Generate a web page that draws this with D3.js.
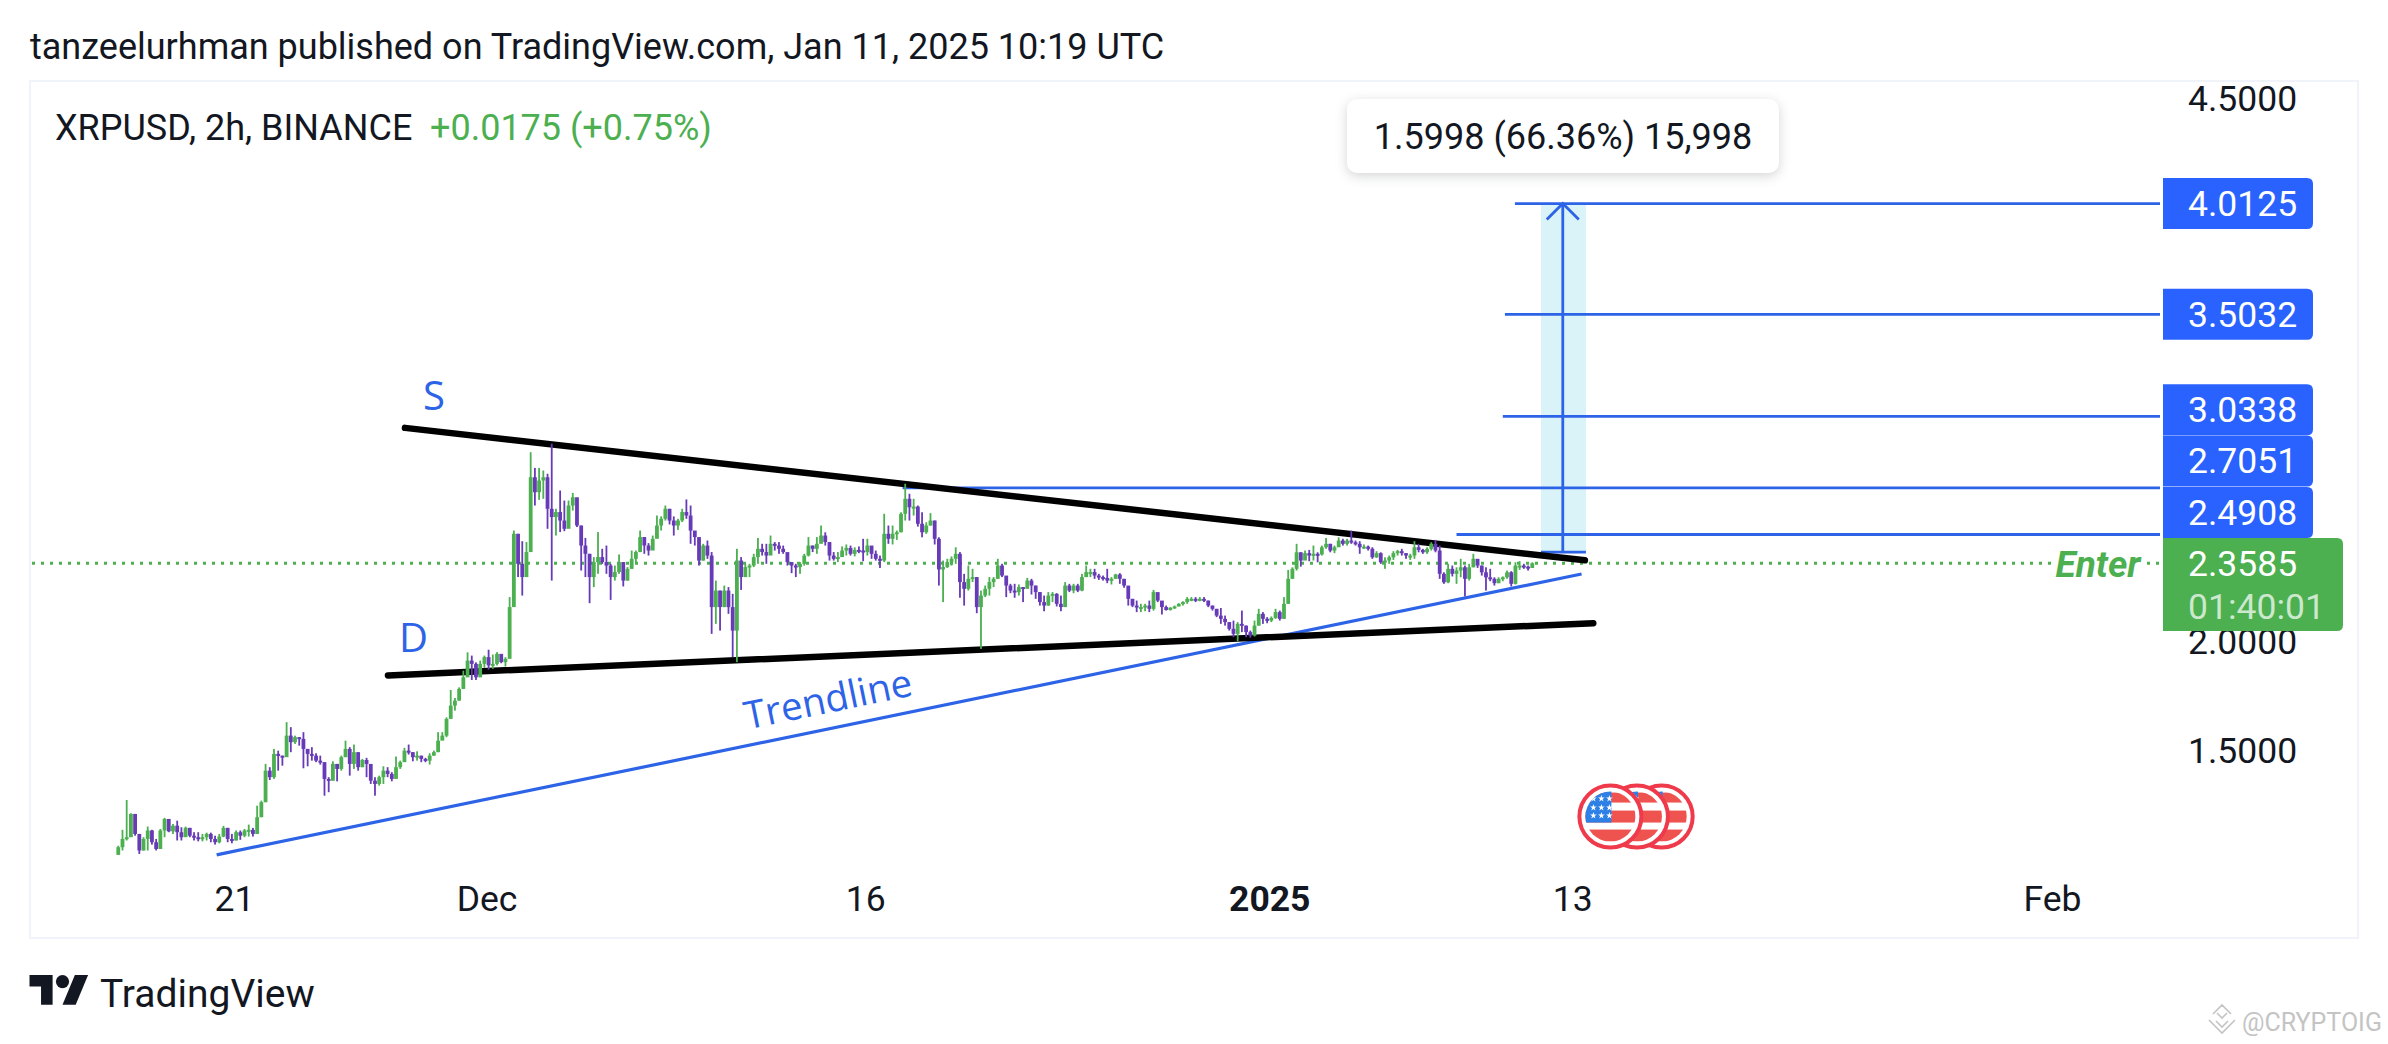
<!DOCTYPE html>
<html>
<head>
<meta charset="utf-8">
<script src="https://cdn.jsdelivr.net/npm/d3@7/dist/d3.min.js"></script>
<style>
  html, body { margin: 0; padding: 0; background: #fff; overflow: hidden; }
  text { font-family: Roboto, sans-serif; fill: #131722; }
</style>
</head>
<body>
<div id="chart"></div>
<script>
// 4h samples, prices in USD, first bar at candleStart
var candleStart = "2024-11-16T10:00:00Z";
var candleStepHours = 4;

var highs = [
  1.060,1.133,1.270,1.209,1.206,1.114,1.099,1.148,1.133,1.091,
  1.137,1.188,1.183,1.160,1.175,1.145,1.148,1.142,1.122,1.122,
  1.114,1.120,1.120,1.106,1.114,1.151,1.142,1.114,1.130,1.130,
  1.137,1.157,1.142,1.244,1.267,1.436,1.421,1.505,1.497,1.474,
  1.628,1.605,1.566,1.559,1.582,1.505,1.513,1.485,1.474,1.444,
  1.375,1.448,1.436,1.474,1.543,1.513,1.525,1.490,1.459,1.464,
  1.421,1.375,1.382,1.425,1.421,1.398,1.470,1.451,1.510,1.525,
  1.490,1.494,1.474,1.464,1.485,1.497,1.582,1.582,1.650,1.776,
  1.739,1.788,1.865,1.949,1.934,1.903,
  1.911,1.934,1.961,1.939,1.950,1.930,1.927,2.203,2.509,2.494,
  2.460,2.456,2.869,2.797,2.797,2.785,2.770,2.908,2.609,2.693,
  2.647,2.647,2.682,2.639,2.532,2.475,2.402,2.387,2.502,2.425,
  2.440,2.356,2.348,2.399,2.364,2.341,2.417,2.417,2.509,2.479,
  2.451,2.486,2.578,2.574,2.624,2.609,2.574,2.563,2.609,2.652,
  2.624,2.494,2.448,2.448,2.463,2.410,2.279,2.233,2.256,2.249,
  2.218,2.425,2.387,2.356,2.356,2.402,2.475,2.448,2.448,2.486,
  2.456,2.456,2.440,2.402,2.364,2.356,2.364,2.402,2.479,2.440,
  2.479,2.532,2.501,2.456,2.410,2.410,
  2.436,2.445,2.440,2.432,2.436,2.471,2.471,2.420,2.417,2.394,
  2.586,2.532,2.532,2.509,2.593,2.724,2.678,2.655,2.624,2.593,
  2.547,2.589,2.555,2.478,2.371,2.379,2.390,2.432,2.410,2.310,
  2.348,2.333,2.295,2.233,2.256,2.295,2.295,2.379,2.356,2.295,
  2.264,2.264,2.261,2.249,2.291,2.287,2.256,2.226,2.210,2.226,
  2.226,2.221,2.210,2.272,2.264,2.264,2.264,2.310,2.348,2.333,
  2.333,2.310,2.302,2.333,2.295,2.310,2.313,2.287,2.249,2.195,
  2.187,2.172,2.172,2.187,2.236,2.218,2.180,2.164,2.157,2.164,
  2.175,2.184,2.203,2.203,2.203,
  2.203,2.203,2.187,2.164,2.149,2.153,2.118,2.088,2.095,2.088,
  2.141,2.072,2.049,2.095,2.149,2.134,2.111,2.114,2.149,2.141,
  2.203,2.328,2.340,2.448,2.409,2.417,2.420,2.440,2.409,2.440,
  2.475,2.448,2.440,2.478,2.471,2.471,2.509,2.463,2.460,2.445,
  2.440,2.432,2.414,2.409,2.386,2.394,2.414,2.420,2.425,2.405,
  2.402,2.460,2.448,2.425,2.432,2.455,2.466,2.440,2.317,2.356,
  2.348,2.340,2.379,2.348,2.356,2.402,2.371,2.348,2.340,2.333,
  2.294,2.294,2.298,2.325,2.322,2.363,2.368,2.356,2.348,2.363
];

var lows = [
  1.018,1.038,1.084,1.130,1.106,1.022,1.038,1.038,1.065,1.038,
  1.045,1.099,1.122,1.114,1.084,1.084,1.114,1.099,1.084,1.080,
  1.080,1.084,1.076,1.065,1.071,1.099,1.076,1.071,1.084,1.087,
  1.099,1.102,1.102,1.114,1.191,1.260,1.362,1.367,1.405,1.428,
  1.490,1.490,1.528,1.520,1.416,1.425,1.451,1.444,1.433,1.290,
  1.306,1.359,1.356,1.405,1.467,1.382,1.413,1.405,1.421,1.375,
  1.344,1.290,1.336,1.344,1.375,1.356,1.372,1.413,1.451,1.479,
  1.448,1.451,1.444,1.444,1.433,1.474,1.490,1.546,1.559,1.650,
  1.681,1.727,1.781,1.857,1.822,1.822,
  1.873,1.878,1.869,1.873,1.889,1.899,1.884,1.927,2.287,2.295,
  2.210,2.302,2.578,2.624,2.650,2.655,2.517,2.279,2.486,2.502,
  2.506,2.555,2.601,2.525,2.325,2.295,2.175,2.249,2.310,2.356,
  2.310,2.190,2.279,2.310,2.252,2.279,2.333,2.364,2.410,2.402,
  2.394,2.433,2.475,2.509,2.555,2.537,2.486,2.512,2.548,2.563,
  2.448,2.440,2.348,2.371,2.379,2.034,2.080,2.049,2.157,2.126,
  1.927,1.904,2.236,2.295,2.295,2.341,2.356,2.394,2.356,2.402,
  2.417,2.402,2.402,2.348,2.313,2.295,2.310,2.348,2.390,2.410,
  2.402,2.471,2.440,2.371,2.371,2.364,
  2.390,2.394,2.394,2.390,2.405,2.368,2.394,2.379,2.371,2.337,
  2.364,2.448,2.445,2.466,2.501,2.555,2.555,2.578,2.527,2.478,
  2.494,2.532,2.445,2.256,2.180,2.337,2.348,2.356,2.200,2.164,
  2.233,2.272,2.129,1.965,2.203,2.210,2.249,2.287,2.295,2.203,
  2.221,2.200,2.210,2.180,2.249,2.215,2.195,2.164,2.138,2.164,
  2.180,2.160,2.138,2.195,2.226,2.221,2.226,2.230,2.295,2.295,
  2.287,2.282,2.279,2.267,2.261,2.287,2.264,2.246,2.164,2.157,
  2.134,2.134,2.138,2.134,2.141,2.180,2.123,2.141,2.141,2.149,
  2.160,2.164,2.172,2.184,2.180,
  2.184,2.180,2.157,2.141,2.111,2.080,2.072,2.049,2.019,2.000,
  2.042,2.019,2.016,2.022,2.072,2.080,2.083,2.088,2.103,2.095,
  2.103,2.172,2.287,2.325,2.343,2.379,2.368,2.371,2.363,2.394,
  2.425,2.409,2.405,2.435,2.440,2.440,2.448,2.440,2.402,2.425,
  2.417,2.379,2.383,2.356,2.333,2.356,2.374,2.394,2.394,2.379,
  2.374,2.379,2.409,2.402,2.402,2.417,2.409,2.287,2.264,2.267,
  2.298,2.264,2.294,2.206,2.279,2.340,2.337,2.302,2.233,2.276,
  2.256,2.267,2.276,2.287,2.252,2.261,2.328,2.333,2.325,2.337
];

var closes = [
  1.053,1.091,1.099,1.206,1.114,1.038,1.091,1.130,1.076,1.045,
  1.130,1.183,1.126,1.152,1.122,1.099,1.142,1.106,1.099,1.091,
  1.099,1.114,1.091,1.076,1.102,1.142,1.091,1.084,1.122,1.106,
  1.130,1.133,1.114,1.191,1.260,1.405,1.375,1.482,1.474,1.467,
  1.566,1.536,1.559,1.551,1.505,1.482,1.474,1.451,1.444,1.367,
  1.359,1.436,1.413,1.467,1.505,1.436,1.490,1.421,1.454,1.436,
  1.359,1.344,1.375,1.405,1.390,1.367,1.421,1.444,1.497,1.490,
  1.467,1.474,1.459,1.451,1.474,1.490,1.543,1.566,1.643,1.704,
  1.727,1.781,1.834,1.911,1.896,1.834,
  1.896,1.927,1.889,1.896,1.942,1.904,1.919,2.157,2.494,2.356,
  2.295,2.410,2.754,2.685,2.739,2.754,2.609,2.571,2.594,2.555,
  2.517,2.624,2.662,2.532,2.440,2.402,2.295,2.364,2.387,2.364,
  2.348,2.295,2.318,2.364,2.279,2.333,2.379,2.410,2.479,2.440,
  2.417,2.471,2.532,2.563,2.609,2.555,2.532,2.555,2.594,2.578,
  2.509,2.479,2.371,2.440,2.394,2.157,2.233,2.157,2.233,2.157,
  2.049,2.371,2.295,2.341,2.348,2.387,2.425,2.410,2.394,2.448,
  2.440,2.425,2.410,2.364,2.348,2.341,2.356,2.394,2.440,2.425,
  2.448,2.486,2.456,2.394,2.379,2.387,
  2.417,2.429,2.402,2.420,2.417,2.410,2.440,2.402,2.379,2.371,
  2.494,2.471,2.494,2.501,2.586,2.655,2.616,2.619,2.540,2.501,
  2.532,2.555,2.471,2.330,2.341,2.364,2.379,2.402,2.272,2.241,
  2.287,2.295,2.157,2.210,2.241,2.272,2.287,2.348,2.302,2.256,
  2.233,2.226,2.249,2.241,2.279,2.256,2.226,2.180,2.164,2.210,
  2.218,2.172,2.157,2.256,2.233,2.256,2.233,2.295,2.318,2.318,
  2.302,2.295,2.291,2.279,2.287,2.307,2.287,2.256,2.195,2.164,
  2.157,2.157,2.164,2.149,2.226,2.187,2.157,2.144,2.154,2.160,
  2.172,2.180,2.195,2.195,2.187,
  2.195,2.187,2.164,2.149,2.118,2.103,2.088,2.057,2.034,2.080,
  2.072,2.042,2.026,2.072,2.126,2.103,2.095,2.107,2.134,2.103,
  2.172,2.287,2.333,2.409,2.371,2.405,2.394,2.402,2.399,2.432,
  2.448,2.417,2.432,2.463,2.448,2.463,2.455,2.448,2.432,2.435,
  2.425,2.386,2.405,2.363,2.371,2.386,2.405,2.414,2.405,2.394,
  2.394,2.432,2.420,2.409,2.425,2.448,2.417,2.310,2.271,2.333,
  2.310,2.325,2.340,2.287,2.340,2.379,2.348,2.317,2.294,2.287,
  2.267,2.287,2.294,2.317,2.264,2.348,2.348,2.343,2.337,2.3585
];

// axes
var timeTicks = ["2024-11-21","2024-12-01","2024-12-16","2025-01-01","2025-01-13","2025-02-01"];
var timeLabels = ["21","Dec","16","2025","13","Feb"];
var priceTicks = [4.5, 2.0, 1.5];

// hand drawn lines on the chart: [start time, start price, end time, end price]
var resistanceLine = ["2024-11-27T18:30:00Z", 2.981, "2025-01-13T12:00:00Z", 2.372];
var supportLine = ["2024-11-27T02:20:00Z", 1.843, "2025-01-13T20:00:00Z", 2.083];
var trendLine = ["2024-11-20T07:30:00Z", 1.018, "2025-01-13T08:50:00Z", 2.309];

// horizontal targets
var levelValues = [4.0125, 3.5032, 3.0338, 2.7051, 2.4908];
var levelStarts = ["2025-01-10T17:30:00Z","2025-01-10T08:00:00Z","2025-01-10T06:00:00Z","2024-12-17T11:30:00Z","2025-01-08T10:00:00Z"];
var levelEnd = "2025-02-05T06:40:00Z";
var levelLabelShift = [0, 0, -6.7, -27, -22];

var lastPrice = 2.3585;
var countdown = "01:40:01";

// projection box
var boxFrom = "2025-01-11T18:15:00Z", boxTo = "2025-01-13T13:00:00Z", boxMid = "2025-01-12T15:00:00Z";
var boxBase = 2.41, boxTop = 4.0125;

var coinTimes = ["2025-01-16T13:00:00Z","2025-01-15T13:30:00Z","2025-01-14T12:15:00Z"];
var coinPrice = 1.194;

var W = 2388, H = 1044;
var BLUE = "#2962ff", LINE_BLUE = "#2d63e6", GREEN = "#4caf50", PURPLE = "#673ab7", INK = "#131722";
var FS = 35.5, HEAD_FS = 36;

var x = d3.scaleUtc()
  .domain([new Date("2024-11-21"), new Date("2025-02-01")])
  .range([234, 2052]);
var y = d3.scaleLinear().domain([1.5, 4.5]).range([750, 97.5]);

var svg = d3.select("#chart").append("svg")
  .attr("width", W).attr("height", H)
  .style("display", "block");

// frame
svg.append("rect")
  .attr("x", 30).attr("y", 81).attr("width", 2328).attr("height", 857)
  .attr("fill", "none").attr("stroke", "#f0f3fa").attr("stroke-width", 2);

// headers
svg.append("text").attr("x", 30).attr("y", 46).attr("dy", "0.355em")
  .style("font-size", HEAD_FS + "px")
  .text("tanzeelurhman published on TradingView.com, Jan 11, 2025 10:19 UTC");
svg.append("text").attr("x", 55).attr("y", 127).attr("dy", "0.355em")
  .style("font-size", HEAD_FS + "px")
  .text("XRPUSD, 2h, BINANCE");
svg.append("text").attr("x", 430).attr("y", 127).attr("dy", "0.355em")
  .style("font-size", HEAD_FS + "px").style("fill", GREEN)
  .text("+0.0175 (+0.75%)");

// axes
var xAxis = svg.append("g").attr("transform", "translate(0,898)")
  .call(d3.axisBottom(x)
    .tickValues(timeTicks.map(function(d) { return new Date(d); }))
    .tickFormat(function(d, i) { return timeLabels[i]; })
    .tickSize(0).tickPadding(0));
xAxis.select(".domain").remove();
xAxis.selectAll("text")
  .attr("y", 0).attr("dy", "0.355em")
  .style("font-size", FS + "px")
  .style("font-family", "Roboto, sans-serif")
  .style("font-weight", function(d, i) { return timeLabels[i] == "2025" ? 700 : 400; })
  .style("fill", INK);

var yAxis = svg.append("g").attr("transform", "translate(2188,0)")
  .call(d3.axisRight(y)
    .tickValues(priceTicks)
    .tickFormat(d3.format(".4f"))
    .tickSize(0).tickPadding(0));
yAxis.select(".domain").remove();
yAxis.selectAll("text")
  .attr("dy", "0.355em")
  .style("font-size", FS + "px")
  .style("font-family", "Roboto, sans-serif")
  .style("fill", INK);

// projection box sits behind everything else
svg.append("rect")
  .attr("x", x(new Date(boxFrom))).attr("y", y(boxTop))
  .attr("width", x(new Date(boxTo)) - x(new Date(boxFrom)))
  .attr("height", y(boxBase) - y(boxTop))
  .attr("fill", "#d9f3f8");

// last price dotted line
svg.append("line")
  .attr("x1", 32).attr("x2", 2160)
  .attr("y1", y(lastPrice)).attr("y2", y(lastPrice))
  .attr("stroke", GREEN).attr("stroke-width", 3)
  .attr("stroke-dasharray", "3 6");

// target levels
svg.selectAll(".level").data(levelValues).enter().append("line")
  .attr("class", "level")
  .attr("x1", function(d, i) { return x(new Date(levelStarts[i])); })
  .attr("x2", x(new Date(levelEnd)))
  .attr("y1", function(d) { return y(d); })
  .attr("y2", function(d) { return y(d); })
  .attr("stroke", LINE_BLUE).attr("stroke-width", 2.8);

// arrow
var arrowX = x(new Date(boxMid));
svg.append("line")
  .attr("x1", arrowX).attr("x2", arrowX)
  .attr("y1", y(boxBase)).attr("y2", y(boxTop))
  .attr("stroke", LINE_BLUE).attr("stroke-width", 2.8);
svg.append("line")
  .attr("x1", x(new Date(boxFrom))).attr("x2", x(new Date(boxTo)))
  .attr("y1", y(boxBase)).attr("y2", y(boxBase))
  .attr("stroke", LINE_BLUE).attr("stroke-width", 2.8);
svg.append("path")
  .attr("d", "M" + (arrowX - 16) + "," + (y(boxTop) + 16) + "L" + arrowX + "," + y(boxTop) + "L" + (arrowX + 16) + "," + (y(boxTop) + 16))
  .attr("fill", "none").attr("stroke", LINE_BLUE).attr("stroke-width", 2.8);

// trend lines
function drawLine(def, color, width, cap) {
  svg.append("line")
    .attr("x1", x(new Date(def[0]))).attr("y1", y(def[1]))
    .attr("x2", x(new Date(def[2]))).attr("y2", y(def[3]))
    .attr("stroke", color).attr("stroke-width", width).attr("stroke-linecap", cap);
}
drawLine(trendLine, LINE_BLUE, 3.2, "butt");
drawLine(resistanceLine, "#000", 6.5, "round");
drawLine(supportLine, "#000", 6.5, "round");

// candles, open is taken from the previous close
var candles = closes.map(function(c, i) {
  return {
    t: new Date(new Date(candleStart).getTime() + i * candleStepHours * 3600000),
    open: i == 0 ? lows[0] : closes[i - 1],
    close: c,
    high: highs[i],
    low: lows[i]
  };
});

var candle = svg.append("g").selectAll("g").data(candles).enter().append("g")
  .attr("fill", function(d) { return d.close >= d.open ? GREEN : PURPLE; });
candle.append("rect")
  .attr("x", function(d) { return x(d.t) - 0.9; })
  .attr("width", 1.8)
  .attr("y", function(d) { return y(d.high); })
  .attr("height", function(d) { return y(d.low) - y(d.high); });
candle.append("rect")
  .attr("x", function(d) { return x(d.t) - 1.9; })
  .attr("width", 3.8)
  .attr("y", function(d) { return y(Math.max(d.open, d.close)); })
  .attr("height", function(d) { return Math.max(2, Math.abs(y(d.open) - y(d.close))); });

// drawing labels
svg.append("text").attr("x", 423).attr("y", 396).attr("dy", "0.355em")
  .style("font-family", "'Open Sans', sans-serif").style("font-size", "40px").style("fill", LINE_BLUE).text("S");
svg.append("text").attr("x", 399).attr("y", 638).attr("dy", "0.355em")
  .style("font-family", "'Open Sans', sans-serif").style("font-size", "40px").style("fill", LINE_BLUE).text("D");
svg.append("text")
  .attr("transform", "translate(828,699) rotate(-11.6)")
  .attr("text-anchor", "middle").attr("dy", "0.355em")
  .style("font-family", "'Open Sans', sans-serif").style("font-size", "38.5px").style("fill", LINE_BLUE)
  .text("Trendline");

// Enter tag
svg.append("text").attr("x", 2098).attr("y", y(lastPrice) + 1)
  .attr("text-anchor", "middle").attr("dy", "0.355em")
  .style("font-size", "37px").style("font-weight", 700).style("font-style", "italic")
  .style("fill", GREEN)
  .style("stroke", "#fff").style("stroke-width", "10px").style("paint-order", "stroke")
  .text("Enter");

// tooltip
svg.append("rect")
  .attr("x", 1347).attr("y", 99).attr("width", 432).attr("height", 74).attr("rx", 10)
  .attr("fill", "#fff")
  .style("filter", "drop-shadow(0 3px 6px rgba(19,23,34,0.18))");
svg.append("text").attr("x", 1563).attr("y", 136).attr("text-anchor", "middle").attr("dy", "0.355em")
  .style("font-size", HEAD_FS + "px")
  .text("1.5998 (66.36%) 15,998");

// price pills, square on the left and rounded on the right
function pill(x0, x1, y0, y1, fill) {
  var r = 6;
  svg.append("path")
    .attr("d", "M" + x0 + "," + y0 + "H" + (x1 - r) + "Q" + x1 + "," + y0 + " " + x1 + "," + (y0 + r) +
      "V" + (y1 - r) + "Q" + x1 + "," + y1 + " " + (x1 - r) + "," + y1 + "H" + x0 + "Z")
    .attr("fill", fill);
}
levelValues.forEach(function(v, i) {
  var cy = y(v) + levelLabelShift[i];
  pill(2163, 2313, cy - 25.5, cy + 25.5, BLUE);
  svg.append("text").attr("x", 2188).attr("y", cy).attr("dy", "0.355em")
    .style("font-size", FS + "px").style("fill", "#fff")
    .text(d3.format(".4f")(v));
});
pill(2163, 2343, 538, 631, GREEN);
svg.append("text").attr("x", 2188).attr("y", y(lastPrice)).attr("dy", "0.355em")
  .style("font-size", FS + "px").style("fill", "#fff").text(d3.format(".4f")(lastPrice));
svg.append("text").attr("x", 2188).attr("y", 606).attr("dy", "0.355em")
  .style("font-size", FS + "px").style("fill", "#fff").style("fill-opacity", 0.72).text(countdown);

// event coins
var defs = svg.append("defs");
coinTimes.forEach(function(t, i) {
  var cx = x(new Date(t)), cy = y(coinPrice);
  var g = svg.append("g").attr("transform", "translate(" + cx + "," + cy + ")");
  defs.append("clipPath").attr("id", "coin" + i).append("circle").attr("r", 25);
  g.append("circle").attr("r", 31).attr("fill", "#fff").attr("stroke", "#ef3a4b").attr("stroke-width", 4);
  var f = g.append("g").attr("clip-path", "url(#coin" + i + ")");
  [[-24, 10], [-6, 12], [13, 12]].forEach(function(s) {
    f.append("rect").attr("x", -26).attr("width", 52).attr("y", s[0]).attr("height", s[1]).attr("fill", "#ef5350");
  });
  f.append("rect").attr("x", -26).attr("width", 27).attr("y", -26).attr("height", 32).attr("fill", "#2d80e6");
  [-18, -9, -1].forEach(function(sy) {
    [-17, -9, -1].forEach(function(sx) {
      f.append("path")
        .attr("transform", "translate(" + sx + "," + sy + ")")
        .attr("d", d3.symbol().type(d3.symbolStar).size(14)())
        .attr("fill", "#fff");
    });
  });
});

// footer logo
svg.append("g").attr("transform", "translate(29.5,968.4) scale(1.65)")
  .selectAll("path").data([
    "M14 22H7V11H0V4h14v18z",
    "M28 22h-8l7.5-18h8L28 22z"
  ]).enter().append("path").attr("d", function(d) { return d; }).attr("fill", INK);
svg.append("circle").attr("cx", 29.5 + 20 * 1.65).attr("cy", 968.4 + 8 * 1.65).attr("r", 4 * 1.65).attr("fill", INK);
svg.append("text").attr("x", 100).attr("y", 993).attr("dy", "0.355em")
  .style("font-size", "39px").text("TradingView");

// watermark
svg.append("path")
  .attr("d", "M2213,1014 L2222,1005 L2231,1014 M2209,1020 L2222,1033 L2235,1020 M2216,1021 L2222,1027 L2228,1021 M2217,1013 L2222,1018 L2227,1013")
  .attr("fill", "none").attr("stroke", "#c4c4c4").attr("stroke-width", 1.6);
svg.append("text").attr("x", 2242).attr("y", 1022).attr("dy", "0.355em")
  .style("font-size", "25px").style("fill", "#c4c4c4").text("@CRYPTOIG");
</script>
</body>
</html>
